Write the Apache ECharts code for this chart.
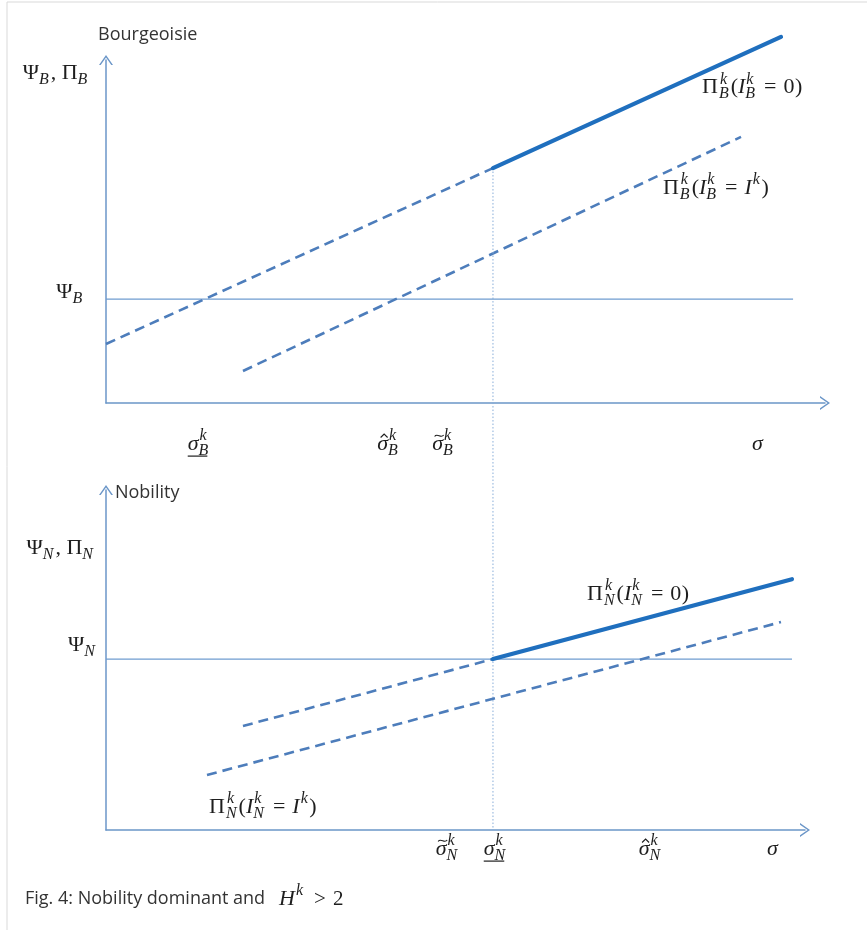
<!DOCTYPE html>
<html><head><meta charset="utf-8">
<script src="https://cdn.jsdelivr.net/npm/echarts@6/dist/echarts.min.js"></script>
<style>html,body{margin:0;padding:0;background:#fff}#c{width:867px;height:930px}</style>
</head><body><div id="c"></div>
<script>
// ---------- data (σ on x, payoff on y; each panel has its own scale) ----------
const topPsi        = [[0, 3.0], [9.49, 3.0]];
const topDashHigh   = [[0, 1.705], [5.345, 6.79]];
const topSolid      = [[5.345, 6.79], [9.323, 10.58]];
const topDashLow    = [[1.892, 0.925], [8.771, 7.69]];
const sigmaDivider  = [[5.345, 6.79], [5.345, -12.34]];
const botPsi        = [[0, 4.94], [9.475, 4.94]];
const botDashHigh   = [[1.892, 3.006], [5.345, 4.94]];
const botSolid      = [[5.345, 4.94], [9.475, 7.25]];
const botDashLow    = [[1.395, 1.59], [9.323, 6.01]];
const topTickValues = [1.285, 3.902, 4.662, 8.998];
const botTickValues = [4.717, 5.38, 7.52, 9.206];
const topTickNames  = ['sigmaUnderB', 'sigmaHatB', 'sigmaTildeB', 'sigma'];
const botTickNames  = ['sigmaTildeN', 'sigmaUnderN', 'sigmaHatN', 'sigma'];

// ---------- styling ----------
const SERIF = '"Liberation Serif","DejaVu Serif",serif';
const SANS = '"Open Sans",Lato,sans-serif';
const BASE = 22, SCRIPT = 16;
const TXT = '#1e1e1e';
const AX = '#6b96c8';
const ARROW = 'path://M0,10 L7,0 L14,10 L12.3,10 L7,2.4 L1.7,10 Z';

const chart = echarts.init(document.getElementById('c'));

function xAx(gi, max) {
  return { gridIndex: gi, type: 'value', min: 0, max: max,
    axisLine: { show: true, onZero: false, lineStyle: { color: AX, width: 1.5 }, symbol: ['none', ARROW], symbolSize: [14, 10] },
    axisTick: { show: false }, axisLabel: { show: false }, splitLine: { show: false } };
}
function yAx(gi, max) {
  return { gridIndex: gi, type: 'value', min: 0, max: max,
    axisLine: { show: true, onZero: false, lineStyle: { color: AX, width: 1.5 }, symbol: ['none', ARROW], symbolSize: [14, 10] },
    axisTick: { show: false }, axisLabel: { show: false }, splitLine: { show: false } };
}
function ln(gi, data, style) {
  return { type: 'line', xAxisIndex: gi, yAxisIndex: gi, data: data, symbol: 'none', clip: false,
    silent: true, lineStyle: style, z: style.z || 2 };
}
const psiStyle = { color: '#6f9cd0', width: 1.2 };
const dashStyle = { color: '#4d7dbb', width: 2.6, type: [10, 6] };
const solidStyle = { color: '#1f6fbe', width: 4.2, cap: 'round', z: 3 };

chart.setOption({
  animation: false,
  grid: [
    { left: 106, top: 60, width: 719, height: 343 },
    { left: 106, top: 490, width: 699, height: 340 }
  ],
  xAxis: [xAx(0, 9.931), xAx(1, 9.655)],
  yAxis: [yAx(0, 9.913), yAx(1, 9.827)],
  series: [
    ln(0, topPsi, psiStyle),
    ln(0, topDashHigh, dashStyle),
    ln(0, topSolid, solidStyle),
    ln(0, topDashLow, dashStyle),
    ln(0, sigmaDivider, { color: '#86acd8', width: 1, type: [1.5, 2] }),
    ln(1, botPsi, psiStyle),
    ln(1, botDashHigh, dashStyle),
    ln(1, botSolid, solidStyle),
    ln(1, botDashLow, dashStyle)
  ]
});

// ---------- math label builder ----------
const mctx = document.createElement('canvas').getContext('2d');
function meas(t, size, it, fam) {
  mctx.font = (it ? 'italic ' : '') + size + 'px ' + fam;
  return mctx.measureText(t).width;
}
function txt(t, x, y, size, it, fam, align, fill) {
  return { type: 'text', x: x, y: y, silent: true,
    style: { text: t, fontSize: size, fontStyle: it ? 'italic' : 'normal', fontFamily: fam,
      fill: fill || TXT, align: align || 'left', verticalAlign: 'middle' } };
}
function accent(kind, cx) {
  if (kind === 'hat') {
    return { type: 'polyline', silent: true, shape: { points: [[cx - 3.5, -6.5], [cx, -10], [cx + 3.5, -6.5]] },
      style: { stroke: TXT, fill: 'none', lineWidth: 1.1 } };
  }
  return { type: 'bezierCurve', silent: true,
    shape: { x1: cx - 4.5, y1: -7.5, cpx1: cx - 2, cpy1: -11.5, cpx2: cx + 2, cpy2: -5, x2: cx + 4.5, y2: -9 },
    style: { stroke: TXT, fill: 'none', lineWidth: 1.1 } };
}
function buildMath(segs) {
  const ch = []; let cx = 0; let ulStart = null;
  segs.forEach(s => {
    if (s.t !== undefined) {
      const size = s.size || BASE, fam = s.fam || SERIF;
      cx += s.pre || 0;
      const w = meas(s.t, size, s.it, fam);
      ch.push(txt(s.t, cx, 0, size, s.it, fam, 'left', s.fill));
      if (s.acc) ch.push(accent(s.acc, cx + w / 2 + 1.5));
      if (s.ul) ulStart = cx;
      cx += w + (s.gap || 0);
    } else {
      const wsup = s.sup ? meas(s.sup, SCRIPT, true, SERIF) : 0;
      const wsub = s.sub ? meas(s.sub, SCRIPT, true, SERIF) : 0;
      if (s.sup) ch.push(txt(s.sup, cx + 1, -BASE * 0.36, SCRIPT, true, SERIF));
      if (s.sub) ch.push(txt(s.sub, cx, BASE * 0.3, SCRIPT, true, SERIF));
      cx += Math.max(wsup, wsub) + 2;
      if (ulStart !== null) {
        ch.push({ type: 'line', silent: true, shape: { x1: ulStart, y1: BASE * 0.55, x2: cx - 3, y2: BASE * 0.55 },
          style: { stroke: TXT, lineWidth: 1.2 } });
        ulStart = null;
      }
    }
  });
  return { children: ch, width: cx };
}
function place(segs, px, align, dx, dy) {
  const m = buildMath(segs);
  let x = px[0] + (dx || 0);
  if (align === 'center') x -= m.width / 2;
  if (align === 'right') x -= m.width;
  return { type: 'group', x: x, y: px[1] + (dy || 0), children: m.children };
}
const segsFor = {
  sigma: [{ t: '\u03C3', it: true }],
  sigmaUnderB: [{ t: '\u03C3', it: true, ul: true }, { sub: 'B', sup: 'k' }],
  sigmaHatB: [{ t: '\u03C3', it: true, acc: 'hat' }, { sub: 'B', sup: 'k' }],
  sigmaTildeB: [{ t: '\u03C3', it: true, acc: 'tilde' }, { sub: 'B', sup: 'k' }],
  sigmaUnderN: [{ t: '\u03C3', it: true, ul: true }, { sub: 'N', sup: 'k' }],
  sigmaHatN: [{ t: '\u03C3', it: true, acc: 'hat' }, { sub: 'N', sup: 'k' }],
  sigmaTildeN: [{ t: '\u03C3', it: true, acc: 'tilde' }, { sub: 'N', sup: 'k' }]
};
function piLabel(g, rhsZero) {
  const s = [{ t: '\u03A0', gap: 1 }, { sub: g, sup: 'k' }, { t: '(' }, { t: 'I', it: true }, { sub: g, sup: 'k' },
    { t: '=', pre: 7, gap: 7 }];
  if (rhsZero) s.push({ t: '0' }); else { s.push({ t: 'I', it: true }); s.push({ sup: 'k' }); }
  s.push({ t: ')', pre: 0.5 });
  return s;
}
function P(gi, x, y) { return chart.convertToPixel({ gridIndex: gi }, [x, y]); }

const g = [];
// frame
g.push({ type: 'rect', silent: true, shape: { x: 7, y: 2, width: 900, height: 960 }, style: { fill: 'none', stroke: '#d9d9d9', lineWidth: 1 } });
// tick labels
topTickValues.forEach((v, i) => g.push(place(segsFor[topTickNames[i]], P(0, v, 0), 'center', 0, 41)));
botTickValues.forEach((v, i) => g.push(place(segsFor[botTickNames[i]], P(1, v, 0), 'center', 0, 19)));
// axis names (y)
g.push(place([{ t: '\u03A8' }, { sub: 'B' }, { t: ', ' }, { t: '\u03A0' }, { sub: 'B' }], P(0, -0.23, 9.538), 'right'));
g.push(place([{ t: '\u03A8' }, { sub: 'B' }], P(0, -0.30, 3.208), 'right'));
g.push(place([{ t: '\u03A8' }, { sub: 'N' }, { t: ', ' }, { t: '\u03A0' }, { sub: 'N' }], P(1, -0.152, 8.150), 'right'));
g.push(place([{ t: '\u03A8' }, { sub: 'N' }], P(1, -0.124, 5.347), 'right'));
// panel titles
g.push(place([{ t: 'Bourgeoisie', fam: SANS, size: 18, fill: '#333' }], P(0, -0.11, 10.636), 'left'));
g.push(place([{ t: 'Nobility', fam: SANS, size: 18, fill: '#333' }], P(1, 0.124, 9.74), 'left'));
// curve labels
g.push(place(piLabel('B', true), P(0, 8.232, 9.118), 'left'));
g.push(place(piLabel('B', false), P(0, 7.693, 6.214), 'left'));
g.push(place(piLabel('N', true), P(1, 6.644, 6.821), 'left'));
g.push(place(piLabel('N', false), P(1, 1.423, 0.665), 'left'));
// caption
g.push(place([{ t: 'Fig. 4: Nobility dominant and', fam: SANS, size: 18, fill: '#333', gap: 14 }, { t: 'H', it: true }, { sup: 'k' },
  { t: '>', pre: 10, gap: 7, size: 21 }, { t: '2', size: 21 }], [25, 899], 'left'));

chart.setOption({ graphic: g });
</script></body></html>
